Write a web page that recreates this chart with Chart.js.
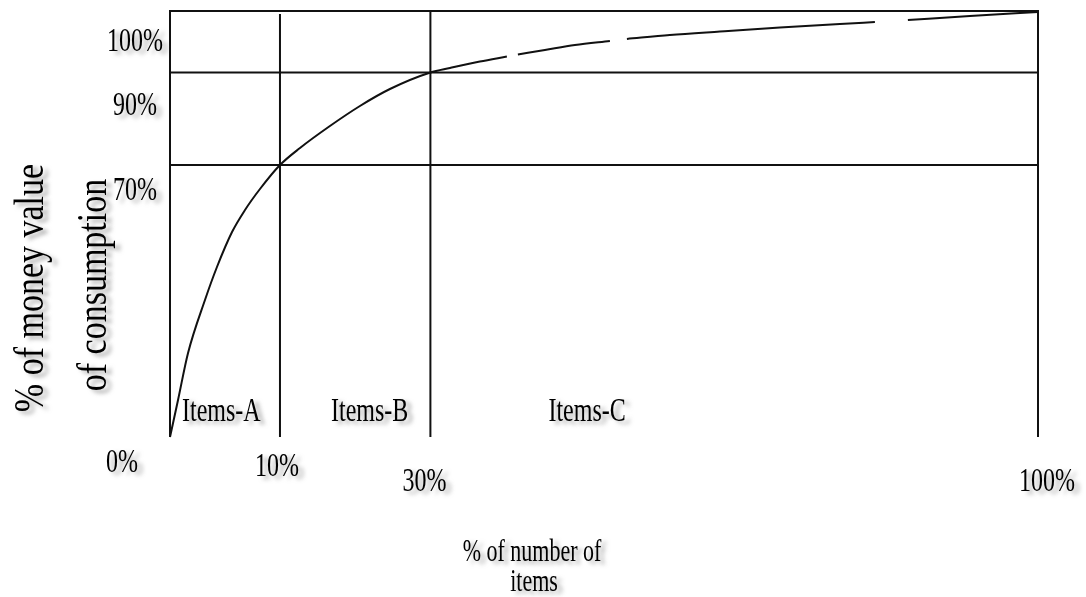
<!DOCTYPE html>
<html>
<head>
<meta charset="utf-8">
<script src="https://cdn.jsdelivr.net/npm/chart.js@4.4.1/dist/chart.umd.min.js"></script>
<style>
  html, body { margin: 0; padding: 0; background: #fff; }
  canvas { display: block; }
</style>
</head>
<body>
<canvas id="abc" width="1086" height="597"></canvas>
<script>
(function () {
  "use strict";

  // ---------- Dados ----------
  // % do número de itens / % do valor monetário do consumo (null = falha no traço)
  var itemPct = [0, 0.73, 1.64, 3.18, 4.27, 5.64, 6.82, 8.18, 10,
    12.66, 16.64, 20.63, 24.62, 30, 32.25, 35.7, 38.81, 39.4, 40.08,
    43.19, 46.65, 50.68, 51.6, 52.64, 57.59, 63.35, 70.27, 77.18, 81.21,
    83, 85.01, 92.16, 100];
  var valuePct = [0, 9.52, 21.62, 35.26, 43.75, 52.75, 58.42, 63.82, 70,
    73.68, 78.43, 82.76, 86.43, 90, 90.73, 91.79, 92.6, null, 92.93,
    93.66, 94.47, 95.12, null, 95.45, 96.1, 96.67, 97.32, 97.89, 98.21,
    null, 98.54, 99.19, 99.84];

  var zoneCuts = [10, 30];          // cortes A|B e B|C (% de itens)
  var zoneLevels = [70, 90];        // níveis de valor acumulado
  var zoneLabels = ["Items-A", "Items-B", "Items-C"];

  var xTickValues = [0, 10, 30, 100];
  var xTickLabels = ["0%", "10%", "30%", "100%"];
  var yTickValues = [100, 90, 70];
  var yTickLabels = ["100%", "90%", "70%"];

  var yTitle = ["% of money value", "of consumption"];
  var xTitle = ["% of number of", "items"];

  // ---------- Escala "fora de escala" (o desenho é esquemático) ----------
  var QUEBRAS = {
    x: { v: [0, 10, 30, 100], f: [0, 0.1267, 0.30, 1] },
    y: { v: [0, 70, 90, 100], f: [0, 0.6385, 0.8556, 1] }
  };
  function paraFracao(q, val) {
    for (var i = 1; i < q.v.length; i++) {
      if (val <= q.v[i] || i === q.v.length - 1) {
        var t = (val - q.v[i - 1]) / (q.v[i] - q.v[i - 1]);
        return q.f[i - 1] + t * (q.f[i] - q.f[i - 1]);
      }
    }
    return 0;
  }
  function deFracao(q, fr) {
    for (var i = 1; i < q.f.length; i++) {
      if (fr <= q.f[i] || i === q.f.length - 1) {
        var t = (fr - q.f[i - 1]) / (q.f[i] - q.f[i - 1]);
        return q.v[i - 1] + t * (q.v[i] - q.v[i - 1]);
      }
    }
    return 0;
  }
  class PiecewiseScale extends Chart.LinearScale {
    getPixelForValue(value) {
      if (value === null || isNaN(value)) return NaN;
      return this.getPixelForDecimal(paraFracao(QUEBRAS[this.id], value));
    }
    getValueForPixel(pixel) {
      return deFracao(QUEBRAS[this.id], this.getDecimalForPixel(pixel));
    }
  }
  PiecewiseScale.id = "piecewise";
  PiecewiseScale.defaults = Chart.LinearScale.defaults;
  Chart.register(PiecewiseScale);

  // ---------- Pontos ----------
  var curva = itemPct.map(function (x, i) { return { x: x, y: valuePct[i] }; });

  var moldura = [{ x: 0, y: 0 }, { x: 0, y: 100 }, { x: 100, y: 100 }, { x: 100, y: 0 }];

  var grade = [];
  zoneCuts.forEach(function (c, i) {
    grade.push({ x: c, y: 0 }, { x: c, y: i === 0 ? 99.5 : 100 }, { x: c, y: null });
  });
  zoneLevels.forEach(function (l) {
    grade.push({ x: 0, y: l }, { x: 100, y: l }, { x: 100, y: null });
  });

  function linha(data, w, suave) {
    return { data: data, borderColor: "#111", borderWidth: w, pointRadius: 0,
      fill: false, tension: 0, clip: false, spanGaps: false,
      cubicInterpolationMode: suave ? "monotone" : "default" };
  }

  // ---------- Textos (com a "sombra" cinza da figura) ----------
  var FONTE = "Liberation Serif, 'Times New Roman', serif";
  function texto(ctx, t, x, y, o) {
    ctx.save();
    ctx.translate(x, y);
    if (o.rot) ctx.rotate(o.rot);
    ctx.scale(1, o.esticar || 1.4);
    ctx.font = (o.size || 24) + "px " + FONTE;
    ctx.textAlign = o.align || "center";
    ctx.textBaseline = "middle";
    ctx.shadowColor = "rgba(110,110,110,0.6)";
    ctx.shadowBlur = 4;
    ctx.shadowOffsetX = 5;
    ctx.shadowOffsetY = 3;
    ctx.fillStyle = "#000";
    ctx.fillText(t, 0, 0);
    ctx.restore();
  }

  var rotulos = {
    id: "rotulos",
    afterDraw: function (chart) {
      var ctx = chart.ctx, sx = chart.scales.x, sy = chart.scales.y;
      var base = sy.getPixelForValue(0);

      var dxX = [-48, -3, -6, 9], dyX = [26, 30, 45, 45];
      xTickValues.forEach(function (v, i) {
        texto(ctx, xTickLabels[i], sx.getPixelForValue(v) + dxX[i], base + dyX[i], {});
      });

      var dxY = [-7, -13, -13], dyY = [31, 34, 26.5];
      yTickValues.forEach(function (v, i) {
        texto(ctx, yTickLabels[i], sx.getPixelForValue(0) + dxY[i], sy.getPixelForValue(v) + dyY[i],
          { align: "right" });
      });

      var inicios = [0].concat(zoneCuts), dxZ = [12, 51, 118];
      zoneLabels.forEach(function (t, i) {
        texto(ctx, t, sx.getPixelForValue(inicios[i]) + dxZ[i], base - 25, { align: "left" });
      });

      texto(ctx, yTitle[0], 32, 288, { rot: -Math.PI / 2, size: 34, esticar: 1.25 });
      texto(ctx, yTitle[1], 95, 285, { rot: -Math.PI / 2, size: 34, esticar: 1.25 });
      texto(ctx, xTitle[0], 532, 553, { size: 22 });
      texto(ctx, xTitle[1], 534, 583, { size: 22 });
    }
  };

  new Chart(document.getElementById("abc"), {
    type: "line",
    data: { datasets: [linha(moldura, 2), linha(grade, 2), linha(curva, 2, true)] },
    options: {
      responsive: false,
      animation: false,
      events: [],
      layout: { padding: { left: 170, right: 48, top: 11, bottom: 160 } },
      plugins: { legend: { display: false }, tooltip: { enabled: false } },
      scales: {
        x: { type: "piecewise", min: 0, max: 100, display: false },
        y: { type: "piecewise", min: 0, max: 100, display: false }
      }
    },
    plugins: [rotulos]
  });
})();
</script>
</body>
</html>
